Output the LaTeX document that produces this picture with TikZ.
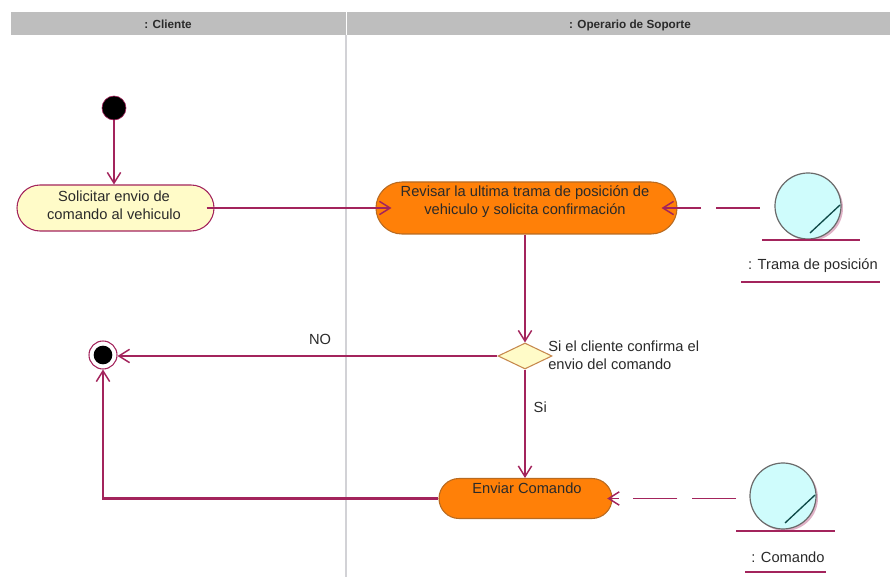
\documentclass[tikz,border=0pt]{standalone}
\usepackage{fontspec}
\setmainfont{Liberation Sans}
\usetikzlibrary{arrows.meta,shapes.misc,shapes.geometric}
\definecolor{wire}{HTML}{A3245C}
\definecolor{hdr}{HTML}{BEBEBE}
\definecolor{lane}{HTML}{D2D2D6}
\definecolor{cream}{HTML}{FFFBC8}
\definecolor{orng}{HTML}{FF8008}
\definecolor{orngb}{HTML}{B86A20}
\definecolor{aqua}{HTML}{CFFCFC}
\definecolor{ink}{HTML}{2A2A2A}
\definecolor{teal}{HTML}{0F4A48}
\tikzset{
  x=0.75pt,y=-0.75pt,
  flow/.style={draw=wire,line width=1.1pt,-{Straight Barb[length=8pt,width=10pt,line width=1.1pt]}},
  heavy/.style={flow,line width=1.8pt},
  midflow/.style={flow,line width=1.4pt},
  dep/.style={flow,dash pattern=on 33pt off 11pt},
  act/.style={rounded rectangle,draw=wire,line width=0.8pt,inner sep=0pt},
  yellowact/.style={act,fill=cream},
  orangeact/.style={act,fill=orng,draw=orngb},
  txt/.style={font=\fontsize{11}{13.5}\selectfont,text=ink,inner sep=0pt,align=center},
  head/.style={font=\bfseries\fontsize{8.8}{10}\selectfont,text=ink,inner sep=0pt,text height=6.5pt,text depth=2pt},
  rule/.style={draw=wire,line width=0.8pt},
  objball/.style={circle,draw=ink!70,line width=0.9pt,fill=aqua,minimum size=49.5pt,inner sep=0pt},
  objshade/.style={circle,fill=wire!35,minimum size=49.5pt,inner sep=0pt},
  tick/.style={draw=teal,line width=1pt}
}
\begin{document}
\begin{tikzpicture}
\useasboundingbox (0,0) rectangle (890,577);
% swimlanes
\fill[hdr] (11,12) rectangle (345.5,35);
\fill[hdr] (346.5,12) rectangle (890,35);
\coordinate (laneTop) at (346,35);
\coordinate (laneBot) at (346,577);
\draw[lane,line width=0.8pt] (laneTop) -- (laneBot);
\node[head] (hCliente) at (168,25.5) {: Cliente};
\node[head] (hOper) at (630,25.5) {: Operario de Soporte};
% nodes
\node[circle,fill=black,draw=wire,line width=0.5pt,minimum size=18pt,inner sep=0pt] (start) at (114,108) {};
\node[yellowact,minimum width=147.75pt,minimum height=34.5pt] (a1) at (115.5,208) {};
\node[txt] (a1t) at (114,205) {Solicitar envio de\\comando al vehiculo};
\node[orangeact,minimum width=225.75pt,minimum height=39pt] (a2) at (526.5,208) {};
\node[txt] (a2t) at (525,201.5) {Revisar la ultima trama de posición de\\vehiculo y solicita confirmación};
\node[diamond,draw=orngb!80,line width=0.8pt,fill=cream,minimum width=40.5pt,minimum height=19.5pt,inner sep=0pt] (d) at (525,356) {};
\node[txt,align=left,anchor=west] (dt) at (548,355.5) {Si el cliente confirma el\\envio del comando};
\node[orangeact,minimum width=129.75pt,minimum height=30pt] (a3) at (525.5,498.5) {};
\node[txt] (a3t) at (527,488) {Enviar Comando};
\node[circle,draw=wire,line width=0.8pt,fill=white,minimum size=21pt,inner sep=0pt] (end) at (103,355) {};
\node[circle,fill=black,minimum size=14pt,inner sep=0pt] (endIn) at (103,355) {};
% objects
\node[objshade] (o1s) at (810,208) {};
\node[objball] (o1) at (808,206) {};
\coordinate (o1a) at (840,205); \coordinate (o1b) at (810,233);
\draw[tick] (o1a) -- (o1b);
\coordinate (o1l) at (762,240); \coordinate (o1r) at (860,240);
\draw[rule] (o1l) -- (o1r);
\node[txt] (o1t) at (813,266) {: Trama de posición};
\coordinate (o1u) at (741,282); \coordinate (o1v) at (880,282);
\draw[rule] (o1u) -- (o1v);
\node[objshade] (o2s) at (785,498) {};
\node[objball] (o2) at (783,496) {};
\coordinate (o2a) at (815,495); \coordinate (o2b) at (785,523);
\draw[tick] (o2a) -- (o2b);
\coordinate (o2l) at (736,531); \coordinate (o2r) at (835,531);
\draw[rule] (o2l) -- (o2r);
\node[txt] (o2t) at (788,557) {: Comando};
\coordinate (o2u) at (745,572); \coordinate (o2v) at (826,572);
\draw[rule] (o2u) -- (o2v);
% connectors
\draw[flow] (start) -- (start |- a1.north);
\draw[midflow,shorten <=-6pt,shorten >=-12pt] (a1.east) -- (a2.west);
\draw[flow] (d.north |- a2.south) -- (d.north);
\draw[flow] (d.west) -- node[txt,pos=0.467,above=8pt] (no) {NO} (end.east |- d.west);
\draw[flow] (d.south) -- node[txt,pos=0.35,right=6pt] (si) {Si} (d.south |- a3.north);
\draw[dep,shorten <=11pt,shorten >=-12pt] (o1.west |- a2.east) -- (a2.east);
\draw[dep,shorten <=10pt,shorten >=-4pt] (o2.west |- a3.east) -- (a3.east);
\draw[heavy] (a3.west) -| (end.south);
\end{tikzpicture}
\end{document}
